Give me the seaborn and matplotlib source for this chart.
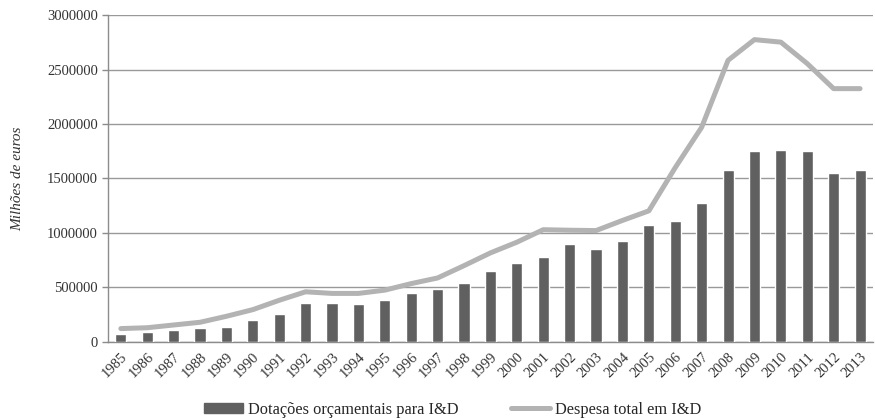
import numpy as np
import pandas as pd
import matplotlib
matplotlib.use("Agg")
import matplotlib.pyplot as plt
import seaborn as sns

# Dotações orçamentais (bars) and despesa total (line), milhões de euros
years = [str(y) for y in range(1985, 2014)]
dotacoes = [75000, 90000, 110000, 125000, 140000, 200000, 255000, 360000,
            360000, 348000, 382000, 447000, 483000, 538000, 651000, 722000,
            777000, 896000, 855000, 922000, 1077000, 1114000, 1273000,
            1575000, 1756000, 1765000, 1756000, 1555000, 1575000]
despesa = [122000, 130000, 155000, 180000, 235000, 296000, 382000, 460000,
           445000, 445000, 475000, 535000, 587000, 700000, 817000, 915000,
           1030000, 1025000, 1022000, 1115000, 1203000, 1600000, 1970000,
           2585000, 2775000, 2752000, 2555000, 2325000, 2325000]

df = pd.DataFrame({"ano": years, "dotacoes": dotacoes, "despesa": despesa})
df["pos"] = np.arange(len(df))

sns.set_style("white")
plt.rcParams["font.family"] = ["Liberation Serif", "DejaVu Serif"]

bar_color = "#606060"
line_color = "#b3b3b3"
axis_color = "#8c8c8c"

fig = plt.figure(figsize=(8.75, 4.2), dpi=100)
ax = fig.add_axes([0.123, 0.186, 0.875, 0.778])

sns.barplot(data=df, x="ano", y="dotacoes", color=bar_color, width=0.42,
            saturation=1, ax=ax, zorder=3)
sns.lineplot(data=df, x="pos", y="despesa", color=line_color, linewidth=3.6,
             ax=ax, zorder=4)

ax.set_xlim(-0.5, len(df) - 0.5)
ax.set_ylim(0, 3000000)
ax.set_yticks(np.arange(0, 3000001, 500000))
ax.set_yticklabels([f"{int(v)}" for v in ax.get_yticks()], fontsize=10.5,
                   color="#333333")
ax.yaxis.grid(True, color="#999999", linewidth=1)
ax.set_axisbelow(True)

ax.set_xticks(df["pos"])
ax.set_xticklabels(years, rotation=45, ha="right", rotation_mode="anchor",
                   fontsize=10.5, color="#333333")
ax.tick_params(axis="x", length=0, pad=6)
ax.set_xticks(np.arange(-0.5, len(df), 1), minor=True)
ax.tick_params(axis="x", which="minor", length=4, color=axis_color, width=1)
ax.tick_params(axis="y", length=4, color=axis_color, width=1, pad=3,
               left=True)

ax.set_xlabel("")
ax.set_ylabel("Milhões de euros", fontsize=11, style="italic",
              color="#333333", labelpad=16)

for side in ["top", "right"]:
    ax.spines[side].set_visible(False)
for side in ["left", "bottom"]:
    ax.spines[side].set_color(axis_color)
    ax.spines[side].set_linewidth(1)

handles = [plt.Rectangle((0, 0), 1, 1, color=bar_color),
           plt.Line2D([0], [0], color=line_color, linewidth=3.6)]
fig.legend(handles, ["Dotações orçamentais para I&D", "Despesa total em I&D"],
           loc="lower center", bbox_to_anchor=(0.517, -0.03), ncol=2,
           frameon=False, fontsize=11.8, handlelength=2.4, handleheight=0.6,
           handletextpad=0.3, columnspacing=3.2)

fig.savefig("out.png", dpi=100)
